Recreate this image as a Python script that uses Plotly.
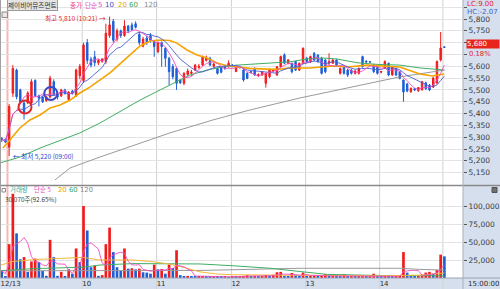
import plotly.graph_objects as go
import pandas as pd

# ---------------- data ----------------
open_ = [5295, 5290, 5258, 5486, 5584, 5500, 5445, 5445, 5445, 5540,
         5475, 5470, 5455, 5470, 5535, 5480, 5475, 5500, 5460, 5495,
         5475, 5560, 5540, 5700, 5630, 5640, 5615, 5620, 5620, 5730,
         5790, 5715, 5750, 5730, 5770, 5775, 5780, 5735, 5685, 5720,
         5730, 5705, 5662, 5700, 5676, 5634, 5600, 5591, 5542, 5528,
         5565, 5570, 5584, 5595, 5605, 5625, 5634, 5600, 5591, 5598,
         5598, 5598, 5605, 5578, 5598, 5584, 5570, 5577, 5591, 5560,
         5563, 5528, 5556, 5580, 5563, 5598, 5648, 5613, 5613, 5620,
         5584, 5613, 5634, 5620, 5655, 5648, 5634, 5627, 5613, 5613,
         5627, 5570, 5598, 5584, 5584, 5570, 5570, 5641, 5622, 5620,
         5605, 5598, 5575, 5591, 5613, 5563, 5591, 5577, 5542, 5525,
         5492, 5505, 5496, 5500, 5530, 5520, 5512, 5530, 5627, 5682]
high = [5300, 5295, 5440, 5605, 5590, 5505, 5455, 5495, 5545, 5545,
        5480, 5475, 5475, 5560, 5545, 5490, 5505, 5505, 5495, 5500,
        5590, 5610, 5700, 5715, 5640, 5665, 5630, 5635, 5780, 5810,
        5800, 5760, 5755, 5795, 5775, 5785, 5790, 5745, 5725, 5730,
        5740, 5710, 5705, 5705, 5680, 5640, 5610, 5595, 5545, 5575,
        5590, 5585, 5610, 5610, 5645, 5645, 5640, 5615, 5595, 5600,
        5600, 5625, 5610, 5600, 5600, 5590, 5575, 5580, 5595, 5570,
        5580, 5572, 5590, 5588, 5600, 5645, 5655, 5630, 5615, 5622,
        5615, 5680, 5640, 5645, 5660, 5650, 5640, 5630, 5655, 5630,
        5630, 5595, 5600, 5588, 5588, 5585, 5595, 5645, 5625, 5622,
        5610, 5600, 5580, 5625, 5615, 5600, 5595, 5580, 5545, 5530,
        5510, 5508, 5512, 5538, 5535, 5525, 5555, 5625, 5745, 5685]
low = [5280, 5275, 5220, 5470, 5460, 5440, 5375, 5440, 5440, 5470,
       5430, 5445, 5450, 5465, 5475, 5460, 5470, 5480, 5455, 5480,
       5470, 5545, 5530, 5610, 5595, 5600, 5605, 5615, 5610, 5720,
       5700, 5705, 5720, 5725, 5740, 5750, 5760, 5690, 5680, 5690,
       5700, 5640, 5655, 5598, 5598, 5521, 5545, 5500, 5525, 5520,
       5560, 5560, 5580, 5590, 5600, 5620, 5600, 5595, 5565, 5570,
       5585, 5595, 5595, 5575, 5590, 5535, 5545, 5570, 5560, 5555,
       5560, 5510, 5550, 5575, 5560, 5595, 5610, 5608, 5570, 5580,
       5580, 5610, 5615, 5615, 5622, 5615, 5565, 5570, 5605, 5610,
       5600, 5565, 5565, 5555, 5565, 5565, 5565, 5595, 5615, 5615,
       5572, 5565, 5570, 5588, 5558, 5560, 5558, 5545, 5450, 5490,
       5488, 5495, 5492, 5498, 5500, 5495, 5508, 5525, 5620, 5678]
close = [5290, 5280, 5430, 5591, 5471, 5450, 5405, 5487, 5535, 5475,
         5465, 5450, 5470, 5550, 5480, 5470, 5500, 5485, 5490, 5485,
         5584, 5600, 5690, 5625, 5605, 5615, 5625, 5630, 5740, 5775,
         5710, 5750, 5730, 5770, 5750, 5755, 5765, 5700, 5715, 5700,
         5710, 5683, 5700, 5683, 5634, 5577, 5556, 5528, 5530, 5570,
         5580, 5575, 5605, 5600, 5641, 5635, 5605, 5610, 5570, 5575,
         5591, 5613, 5600, 5598, 5595, 5542, 5549, 5575, 5563, 5565,
         5577, 5570, 5584, 5584, 5598, 5641, 5613, 5627, 5577, 5584,
         5613, 5676, 5620, 5641, 5627, 5620, 5570, 5577, 5620, 5627,
         5605, 5591, 5570, 5563, 5570, 5580, 5591, 5598, 5618, 5618,
         5577, 5570, 5578, 5620, 5563, 5598, 5563, 5549, 5491, 5495,
         5507, 5500, 5510, 5535, 5505, 5500, 5550, 5620, 5677, 5680]
volume = [10000, 1500, 47000, 117000, 62000, 26000, 29000, 8600, 23000, 27000,
          22000, 10000, 3000, 53000, 29000, 3000, 8600, 2400, 12000, 6000,
          41000, 22000, 100000, 66000, 15000, 17000, 3000, 4000, 47000, 70000,
          36000, 15000, 10000, 41000, 13000, 13500, 12000, 13000, 8000, 7500,
          6000, 18600, 12000, 12500, 6000, 18600, 14000, 38600, 4000, 2500,
          3000, 2500, 2000, 2500, 2600, 2000, 1800, 2000, 1500, 1400,
          1500, 1300, 2500, 1500, 2000, 3000, 4000, 2500, 3000, 2000,
          2500, 4000, 3000, 4500, 8000, 8500, 3000, 2000, 7000, 4000,
          3000, 7500, 2000, 2500, 3000, 2000, 2500, 5500, 2000, 2500,
          2000, 1500, 5500, 2000, 2500, 1500, 2000, 3000, 1500, 2000,
          6000, 2000, 1500, 2500, 2000, 1500, 2500, 3000, 36000, 7500,
          4000, 2000, 2500, 3000, 7500, 8500, 6000, 11000, 32455, 30070]

# price moving averages (candle index, value)
ma20_idx = [0.35, 2.2, 4.9, 7.6, 10.3, 13, 15.7, 18.4, 21, 23.7, 26.4, 29.1, 31.8, 34.5, 37.2,
            39.9, 42.6, 45.2, 47.1, 49.8, 52.5, 55.2, 57.9, 60.6, 63.3, 66.7, 71.3, 74, 77.5,
            82.9, 89.1, 93.6, 98.2, 102.5, 107, 112.4, 115.9, 119]
ma20_val = [5254, 5288, 5339, 5373, 5394, 5424, 5436, 5457, 5487, 5512, 5542, 5572, 5610, 5648, 5686,
            5707, 5711, 5709, 5698, 5669, 5648, 5635, 5614, 5602, 5598, 5591, 5588, 5587, 5593,
            5593, 5601, 5598, 5605, 5601, 5597, 5567, 5559, 5567]
ma60_idx = [-0.5, 4.9, 10.3, 15.7, 21, 26.4, 31.8, 37.2, 42.6, 45.2, 47.9, 50.6, 55.2, 59.5, 63.3,
            68.6, 74, 77.5, 82.1, 86.4, 90.1, 95.5, 100.9, 107, 112.4, 119]
ma60_val = [5191, 5216, 5254, 5288, 5318, 5360, 5407, 5457, 5500, 5521, 5542, 5563, 5584, 5598, 5605,
            5610, 5615, 5619, 5631, 5635, 5631, 5615, 5608, 5605, 5593, 5584]
ma120_idx = [14.3, 18.4, 26.4, 34.5, 45.2, 56.8, 66.7, 80.2, 93.6, 107, 119]
ma120_val = [5119, 5170, 5216, 5259, 5318, 5373, 5415, 5466, 5512, 5555, 5584]

# volume moving averages
vma20_idx = [-0.5, 3, 10.3, 21.9, 26.4, 35.3, 39.9, 44.4, 48.7, 53.3, 57.9, 62.2, 74.8, 85.6, 101.7, 112.4, 119]
vma20_val = [17500, 23000, 26000, 28600, 25000, 25000, 23000, 20000, 15000, 8500, 5500, 4500, 4000, 3500, 3000, 4000, 7000]
vma60_idx = [-0.5, 8.4, 21.9, 26.4, 35.3, 44.4, 53.3, 62.2, 66.7, 72.1, 80.2, 87.5, 101.7, 119]
vma60_val = [10000, 13000, 15000, 18000, 20000, 20000, 19500, 17000, 15500, 13600, 9000, 5000, 3500, 3000]
vma120_idx = [-0.5, 26.4, 53.3, 66.7, 80.2, 93.6, 107, 112.4, 119]
vma120_val = [10000, 10000, 10500, 12000, 13500, 13500, 13500, 12000, 11000]

price_ticks = list(range(5150, 5851, 50))
hidden_price_labels = [5650, 5700, 5850]   # covered by the last-price box in the reference
vol_ticks = [25000, 50000, 75000, 100000]
day_labels = ["12/13", "10", "11", "12", "13", "14"]

# ---------------- derived ----------------
n = len(close)
idx = list(range(n))
ma5 = pd.Series(close, dtype=float).rolling(5, min_periods=1).mean()
ma10 = pd.Series(close, dtype=float).rolling(10, min_periods=1).mean()
vma5 = pd.Series(volume, dtype=float).rolling(5, min_periods=1).mean()

RED = "#f21b1b"
BLUE = "#1f5fd6"
vol_colors = [BLUE if i == 0 or volume[i] < volume[i - 1] else RED for i in range(n)]

# ---------------- geometry (pixels of the 500x289 page) ----------------
W, H = 500, 289
def px(x):
    return x / W
def py(y):
    return 1 - y / H

PLOT_R = 463
X0, DX = 1.7, 3.72            # pixel of candle 0 and spacing
x_range = [(0 - X0) / DX, (PLOT_R - X0) / DX]
P_TOP, P_BOT = 0, 185
V_TOP, V_BOT = 186, 278
PPU = 11.82 / 50               # px per price unit
p_range = [5800 - (P_BOT - 19) / PPU, 5800 + (19 - P_TOP) / PPU]
VPU = 0.72 / 1000
v_range = [0, (V_BOT - V_TOP) / VPU]

day_lines = [21.65, 41.65, 61.75, 81.7, 101.6, 118.6]
first_line = 1.55
label_pos = [x_range[0] + 0.15] + day_lines[:5]

PANEL = "#d6dfee"
GRID = "#e3e3e3"
VGRID = "#d2d2d2"
TXT = "#3a3a3a"
KFONT = "Noto Sans CJK KR"
NFONT = "DejaVu Sans"

fig = go.Figure()

fig.add_trace(go.Candlestick(
    x=idx, open=open_, high=high, low=low, close=close,
    increasing=dict(line=dict(color=RED, width=1), fillcolor=RED),
    decreasing=dict(line=dict(color=BLUE, width=1), fillcolor=BLUE),
    whiskerwidth=0, xaxis="x", yaxis="y", hoverinfo="skip"))

for xs, ys, col, w in [
    (ma120_idx, ma120_val, "#9a9a9a", 1),
    (ma60_idx, ma60_val, "#3fae63", 1),
    (ma20_idx, ma20_val, "#f5a300", 1.6),
    (idx, ma10, "#4a5fd0", 0.9),
    (idx, ma5, "#f04cc0", 0.9),
]:
    fig.add_trace(go.Scatter(x=list(xs), y=list(ys), mode="lines",
                             line=dict(color=col, width=w), xaxis="x", yaxis="y",
                             hoverinfo="skip"))

fig.add_trace(go.Bar(x=idx, y=volume, marker=dict(color=vol_colors, line=dict(width=0)),
                     width=0.72, xaxis="x2", yaxis="y2", hoverinfo="skip"))
for xs, ys, col, w in [
    (vma120_idx, vma120_val, "#9a9a9a", 1),
    (vma60_idx, vma60_val, "#3fae63", 1),
    (vma20_idx, vma20_val, "#f5b73a", 1),
    (idx, vma5, "#f04cc0", 0.9),
]:
    fig.add_trace(go.Scatter(x=list(xs), y=list(ys), mode="lines",
                             line=dict(color=col, width=w), xaxis="x2", yaxis="y2",
                             hoverinfo="skip"))

shapes = []
# right panel and bottom strip backgrounds
shapes.append(dict(type="rect", xref="paper", yref="paper", x0=px(PLOT_R), x1=1, y0=0, y1=1,
                   fillcolor=PANEL, line=dict(width=0), layer="below"))
shapes.append(dict(type="rect", xref="paper", yref="paper", x0=0, x1=1, y0=0, y1=py(V_BOT),
                   fillcolor=PANEL, line=dict(width=0), layer="below"))
# day separators
for d in day_lines:
    shapes.append(dict(type="line", xref="x", yref="paper", x0=d, x1=d, y0=0, y1=1,
                       line=dict(color=VGRID, width=1), layer="below"))
shapes.append(dict(type="line", xref="x", yref="paper", x0=first_line, x1=first_line,
                   y0=py(V_BOT), y1=py(11), line=dict(color="#f4b6b6", width=2), layer="below"))
# panel borders
shapes.append(dict(type="line", xref="paper", yref="paper", x0=0, x1=1, y0=py(185.5), y1=py(185.5),
                   line=dict(color="#8a8a8a", width=1.5)))
shapes.append(dict(type="line", xref="paper", yref="paper", x0=0, x1=1, y0=py(V_BOT), y1=py(V_BOT),
                   line=dict(color="#9aa3b3", width=1)))
shapes.append(dict(type="line", xref="paper", yref="paper", x0=px(PLOT_R), x1=px(PLOT_R), y0=0, y1=1,
                   line=dict(color="#a8b0be", width=1)))
shapes.append(dict(type="line", xref="paper", yref="paper", x0=px(0.5), x1=px(0.5), y0=py(V_BOT), y1=1,
                   line=dict(color="#a0a0a0", width=1)))
# marker circles
red_circle = (6.26, 5428)
blue_circle = (13.2, 5485)
rx, ry = 6.5 / DX, 6.5 / PPU
for (cx, cy), col in [(red_circle, "#e3262e"), (blue_circle, "#3b48c8")]:
    shapes.append(dict(type="circle", xref="x", yref="y", x0=cx - rx, x1=cx + rx,
                       y0=cy - ry, y1=cy + ry, line=dict(color=col, width=2)))
# small icons
shapes.append(dict(type="rect", xref="paper", yref="paper", x0=px(2), x1=px(7.5), y0=py(17.5), y1=py(12),
                   fillcolor="#e8e8e8", line=dict(color="#8a8a8a", width=1)))
shapes.append(dict(type="rect", xref="paper", yref="paper", x0=px(492), x1=px(497), y0=py(192.5), y1=py(187.5),
                   fillcolor="#707070", line=dict(color="#505050", width=1)))
shapes.append(dict(type="rect", xref="paper", yref="paper", x0=px(2), x1=px(5.5), y0=py(192), y1=py(188.5),
                   fillcolor="#ffffff", line=dict(color="#8a8a8a", width=1)))

ann = []
def text(x, y, s, color, size=7, font=KFONT, xanchor="left", **kw):
    ann.append(dict(x=px(x), y=py(y), xref="paper", yref="paper", text=s, showarrow=False,
                    xanchor=xanchor, yanchor="middle", font=dict(color=color, size=size, family=font), **kw))

# title + price legend
text(7, 5, "제이비어뮤즈먼트", "#2a2a2a", size=6.6, bgcolor="#e4e4e4", bordercolor="#9a9a9a",
     borderwidth=1, borderpad=0)
text(67.5, 5, "종가", "#e8368a", size=6.6)
text(82.5, 5, "단순", "#e04cc0", size=6.6)
text(96, 5, "5", "#e04cc0", size=7, font=NFONT)
text(102.5, 5, "10", "#3a50d0", size=7, font=NFONT)
text(116, 5, "20", "#f0a000", size=7, font=NFONT)
text(126.5, 5, "60", "#3aa55a", size=7, font=NFONT)
text(142, 5, "120", "#8a8a8a", size=7, font=NFONT)
# volume legend
LEG_Y, VAL_Y = 189.6, 199.4
text(8, LEG_Y, "거래량", "#2aa8a0", size=6.4)
text(32, LEG_Y, "단순 5", "#e04cc0", size=6.4)
text(55.5, LEG_Y, "20", "#f0a000", size=6.8, font=NFONT)
text(66.5, LEG_Y, "60", "#3aa55a", size=6.8, font=NFONT)
text(77.5, LEG_Y, "120", "#8a8a8a", size=6.8, font=NFONT)
text(3, VAL_Y, "30,070주(92.65%)", "#3a3a3a", size=6.4)
# high / low marks
text(43, 18, "최고 5,810 (10:21) →", "#e3262e", size=6.6)
text(11, 155.5, "← 최저 5,220 (09:00)", "#2a3fcf", size=6.6)
# right panel texts
text(465, 4, "LC:9.00", "#e3262e", size=7, font=NFONT)
text(465, 12, "HC:-2.07", "#3a5fd0", size=7, font=NFONT)
text(466, 44.3, "5,680", "white", size=7, font=NFONT, width=32, align="left",
     bgcolor="#e8241c", borderpad=0)
text(467, 54.2, "0.18%", "#e3262e", size=6.8, font=NFONT)
text(466, 283.5, "15:00:00", "#2a2a2a", size=7, font=NFONT)

fig.update_layout(
    width=W, height=H, margin=dict(l=0, r=0, t=0, b=0),
    paper_bgcolor="white", plot_bgcolor="white", showlegend=False, boxgap=0.45,
    bargap=0.2, shapes=shapes, annotations=ann,
    xaxis=dict(domain=[0, px(PLOT_R)], range=x_range, showticklabels=False, showgrid=False,
               zeroline=False, rangeslider=dict(visible=False), anchor="y", fixedrange=True),
    yaxis=dict(domain=[py(P_BOT), py(P_TOP)], range=p_range, side="right", anchor="x",
               tickvals=price_ticks,
               ticktext=["" if v in hidden_price_labels else f"{v:,}" for v in price_ticks],
               gridcolor=GRID, gridwidth=1, ticks="outside", ticklen=3, tickcolor="#555",
               tickfont=dict(family=NFONT, size=7.5, color=TXT), zeroline=False, showline=False),
    xaxis2=dict(domain=[0, px(PLOT_R)], range=x_range, anchor="y2", tickvals=label_pos,
                ticktext=day_labels, ticklabelposition="outside right", ticks="", showgrid=False,
                zeroline=False, tickfont=dict(family=NFONT, size=7, color="#2a2a2a"), fixedrange=True),
    yaxis2=dict(domain=[py(V_BOT), py(V_TOP)], range=v_range, side="right", anchor="x2",
                tickvals=vol_ticks, ticktext=[f"{v:,}" for v in vol_ticks],
                gridcolor=GRID, gridwidth=1, ticks="outside", ticklen=3, tickcolor="#555",
                tickfont=dict(family=NFONT, size=7.5, color=TXT), zeroline=False, showline=False),
)

fig.write_html("out.html")
